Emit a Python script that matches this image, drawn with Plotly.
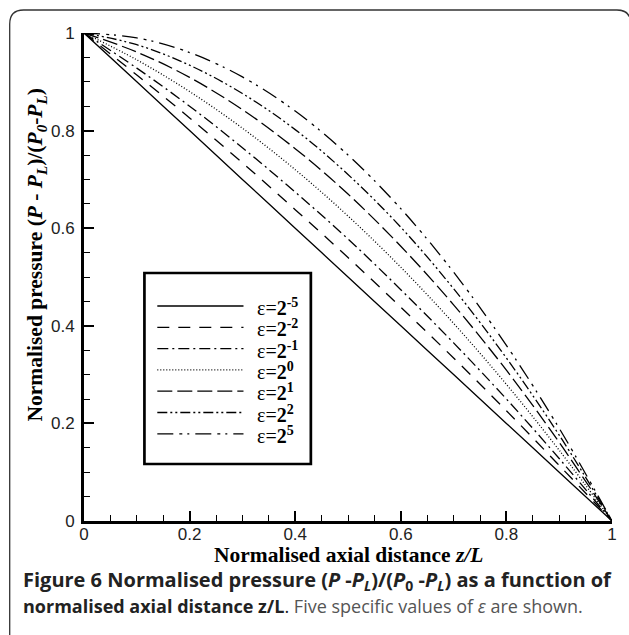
import plotly.graph_objects as go

W, H = 629, 635
# plot area in pixels
L, R, T, B = 84, 617, 33, 521

x_vals = [0.0, 0.1, 0.2, 0.3, 0.4, 0.5, 0.6, 0.7, 0.8, 0.9, 1.0]
eps_exp = ["-5", "-2", "-1", "0", "1", "2", "5"]
y_m5 = [1.0, 0.900, 0.800, 0.700, 0.600, 0.500, 0.400, 0.300, 0.200, 0.100, 0.0]
y_m2 = [1.0, 0.914, 0.826, 0.734, 0.638, 0.540, 0.438, 0.334, 0.226, 0.114, 0.0]
y_m1 = [1.0, 0.928, 0.850, 0.765, 0.674, 0.578, 0.474, 0.365, 0.250, 0.128, 0.0]
y_0 = [1.0, 0.945, 0.880, 0.805, 0.720, 0.625, 0.520, 0.405, 0.280, 0.145, 0.0]
y_p1 = [1.0, 0.961, 0.909, 0.843, 0.763, 0.670, 0.563, 0.443, 0.309, 0.161, 0.0]
y_p2 = [1.0, 0.976, 0.934, 0.876, 0.802, 0.710, 0.602, 0.476, 0.334, 0.176, 0.0]
y_p5 = [1.0, 0.990, 0.960, 0.910, 0.840, 0.750, 0.640, 0.510, 0.360, 0.190, 0.0]
series = [y_m5, y_m2, y_m1, y_0, y_p1, y_p2, y_p5]
dashes = ["solid", "12px,9px", "11px,4px,2px,4px", "1px,2px", "15px,5px",
          "10px,3px,2px,3px,2px,3px", "16px,6px,3px,5px,2px,6px"]

x_ticks = [0, 0.2, 0.4, 0.6, 0.8, 1]
x_ticktext = ["0", "0.2", "0.4", "0.6", "0.8", "1"]
y_ticks = [0, 0.2, 0.4, 0.6, 0.8, 1]
y_ticktext = ["0", "0.2", "0.4", "0.6", "0.8", "1"]


def px(xp):
    return (xp - L) / (R - L)


def py(yp):
    return (B - yp) / (B - T)


fig = go.Figure()
for ys, d, e in zip(series, dashes, eps_exp):
    fig.add_trace(go.Scatter(x=x_vals, y=ys, mode="lines",
                             line=dict(color="black", width=1.3, dash=d, shape="spline", smoothing=1.0),
                             name="ε=2^" + e, showlegend=False))

shapes = []
# outer rounded frame
fr = dict(l=9, t=10, r=636, b=660, rad=14)
path = (f"M {px(fr['l'])},{py(fr['b'])} L {px(fr['l'])},{py(fr['t']+fr['rad'])} "
        f"Q {px(fr['l'])},{py(fr['t'])} {px(fr['l']+fr['rad'])},{py(fr['t'])} "
        f"L {px(fr['r']-fr['rad'])},{py(fr['t'])} "
        f"Q {px(fr['r'])},{py(fr['t'])} {px(fr['r'])},{py(fr['t']+fr['rad'])} "
        f"L {px(fr['r'])},{py(fr['b'])}")
shapes.append(dict(type="path", xref="paper", yref="paper", path=path,
                   line=dict(color="#333", width=1.3)))

# legend box
shapes.append(dict(type="rect", xref="paper", yref="paper",
                   x0=px(145), x1=px(313), y0=py(464), y1=py(273),
                   line=dict(color="black", width=2.7), fillcolor="white", layer="above"))
annotations = []
row0, dy = 306, 21.3
for i, (d, e) in enumerate(zip(dashes, eps_exp)):
    yy = row0 + dy * i
    shapes.append(dict(type="line", xref="paper", yref="paper",
                       x0=px(158), x1=px(245), y0=py(yy), y1=py(yy),
                       line=dict(color="black", width=1.3, dash=d), layer="above"))
    annotations.append(dict(xref="paper", yref="paper", x=px(257), y=py(yy + 1),
                            xanchor="left", yanchor="middle", showarrow=False,
                            text="ε=<b>2<sup>" + e + "</sup></b>",
                            font=dict(family="Liberation Serif", size=20, color="black")))

# axis titles
annotations.append(dict(xref="paper", yref="paper", x=px(350.5), y=py(555), showarrow=False,
                        xanchor="center", yanchor="middle",
                        text="<b>Normalised axial distance <i>z/L</i></b>",
                        font=dict(family="Liberation Serif", size=21.5, color="black")))
annotations.append(dict(xref="paper", yref="paper", x=px(36), y=py(255), showarrow=False,
                        xanchor="center", yanchor="middle", textangle=-90,
                        text="<b>Normalised pressure (<i>P</i> - <i>P<sub>L</sub></i>)/(<i>P<sub>0</sub></i>-<i>P<sub>L</sub></i>)</b>",
                        font=dict(family="Liberation Serif", size=21.5, color="black")))
# caption
annotations.append(dict(xref="paper", yref="paper", x=px(20), y=py(580), showarrow=False,
                        xanchor="left", yanchor="middle",
                        text="<b>Figure 6 Normalised pressure (<i>P</i> -<i>P<sub>L</sub></i>)/(<i>P</i><sub>0</sub> -<i>P<sub>L</sub></i>) as a function of</b>",
                        font=dict(family="Open Sans", size=20, color="#222")))
annotations.append(dict(xref="paper", yref="paper", x=px(20), y=py(606), showarrow=False,
                        xanchor="left", yanchor="middle",
                        text="<b>normalised axial distance z/L</b>. <span style='color:#555'>Five specific values of <i>ε</i> are shown.</span>",
                        font=dict(family="Open Sans", size=18, color="#222")))

axis_common = dict(range=[0, 1], showgrid=False, zeroline=False, showline=True,
                   linecolor="black", linewidth=3, ticks="inside", ticklen=10,
                   tickwidth=2, tickcolor="black",
                   minor=dict(dtick=0.05, ticks="inside", ticklen=6, tickwidth=1, tickcolor="black"),
                   tickfont=dict(family="Liberation Sans", size=17, color="#222"))

fig.update_layout(
    width=W, height=H,
    margin=dict(l=L, r=W - R, t=T, b=H - B),
    paper_bgcolor="white", plot_bgcolor="white",
    xaxis=dict(tickvals=x_ticks, ticktext=x_ticktext, ticklabelstandoff=-4, **axis_common),
    yaxis=dict(tickvals=y_ticks, ticktext=y_ticktext, ticklabelstandoff=3, **axis_common),
    shapes=shapes, annotations=annotations, showlegend=False,
)
fig.write_html("out.html")
